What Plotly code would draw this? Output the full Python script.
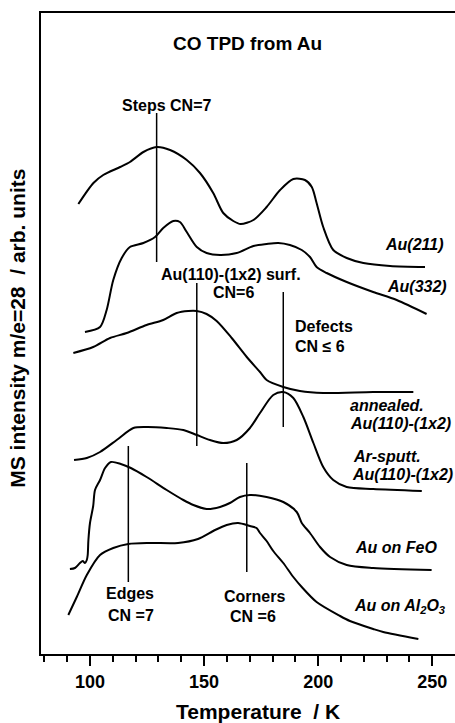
import plotly.graph_objects as go

# CO thermal desorption traces (temperature in K, MS intensity in arb. units, offset stacked)
T_211 = [94.9, 101.5, 105.8, 113.2, 117.5, 123.4, 129.2, 135.1, 142.4, 148.2, 154.0, 158.4,
         162.8, 166.0, 171.6, 177.4, 183.3, 189.1, 194.2, 197.2, 199.3, 202.2, 206.6, 212.5,
         219.8, 231.5, 246.8]
I_211 = [4.50, 4.71, 4.79, 4.87, 4.92, 5.02, 5.07, 5.04, 4.94, 4.81, 4.61, 4.41,
         4.33, 4.30, 4.34, 4.47, 4.64, 4.75, 4.74, 4.67, 4.51, 4.27, 4.04, 3.96,
         3.91, 3.88, 3.87]

T_332 = [97.8, 104.4, 107.3, 110.2, 113.9, 117.5, 123.4, 128.5, 132.1, 136.5, 139.4, 142.4,
         146.8, 151.1, 157.0, 164.3, 171.6, 177.4, 182.5, 187.6, 192.8, 196.4, 199.3, 203.7,
         212.5, 224.1, 234.4, 247.5]
I_332 = [3.22, 3.27, 3.44, 3.74, 3.96, 4.07, 4.11, 4.17, 4.26, 4.33, 4.32, 4.22,
         4.07, 4.01, 3.99, 4.01, 4.08, 4.10, 4.11, 4.09, 4.04, 3.97, 3.87, 3.81,
         3.72, 3.62, 3.54, 3.40]

T_ann = [92.7, 101.4, 108.8, 116.1, 124.8, 132.1, 138.0, 143.1, 146.8, 151.1, 155.5, 162.1,
         168.7, 174.5, 177.4, 184.7, 192.0, 202.2, 224.1, 241.7]
I_ann = [3.01, 3.07, 3.16, 3.21, 3.29, 3.34, 3.41, 3.43, 3.43, 3.40, 3.33, 3.16,
         2.97, 2.82, 2.74, 2.67, 2.63, 2.61, 2.62, 2.62]

T_spt = [93.0, 98.6, 104.4, 111.7, 119.0, 124.8, 133.6, 140.9, 146.8, 152.6, 158.4, 164.3,
         170.1, 174.5, 180.3, 184.7, 189.1, 193.5, 197.9, 202.2, 206.6, 212.5, 224.1, 245.4]
I_spt = [1.94, 1.96, 2.02, 2.14, 2.26, 2.27, 2.26, 2.24, 2.19, 2.14, 2.11, 2.14,
         2.26, 2.41, 2.59, 2.62, 2.56, 2.37, 2.11, 1.87, 1.74, 1.67, 1.65, 1.63]

T_feo = [91.2, 93.4, 95.6, 96.8, 97.8, 98.6, 99.0, 99.3, 100.0, 101.4, 102.2, 104.4, 106.6,
         109.2, 113.5, 117.9, 124.8, 133.6, 140.9, 145.3, 151.1, 157.0, 161.3, 165.7,
         170.1, 177.4, 184.7, 190.6, 192.8, 196.4, 200.8, 205.2, 212.5, 224.1, 249.7]
I_feo = [0.85, 0.86, 0.91, 0.93, 0.91, 0.94, 0.99, 1.14, 1.31, 1.48, 1.64, 1.74, 1.86,
         1.92, 1.90, 1.86, 1.77, 1.64, 1.54, 1.49, 1.45, 1.47, 1.51, 1.57,
         1.59, 1.57, 1.52, 1.42, 1.31, 1.21, 1.07, 0.97, 0.89, 0.86, 0.84]

T_al = [90.5, 94.2, 98.6, 104.4, 110.2, 116.8, 126.3, 138.6, 147.3, 154.8, 159.9, 164.9,
        170.1, 173.0, 174.5, 177.4, 180.3, 184.7, 189.1, 192.8, 199.3, 209.6, 213.9, 224.1,
        228.5, 243.9]
I_al = [0.39, 0.57, 0.79, 0.99, 1.06, 1.10, 1.11, 1.11, 1.15, 1.24, 1.29, 1.31,
        1.28, 1.26, 1.21, 1.13, 1.03, 0.91, 0.77, 0.67, 0.52, 0.38, 0.33, 0.25,
        0.22, 0.15]

# site markers: (temperature, bottom, top)
markers = {
    "steps": (129.2, 3.92, 5.41),
    "surf": (146.8, 2.08, 3.71),
    "defects": (184.7, 2.27, 3.62),
    "edges": (116.8, 0.72, 2.08),
    "corners": (168.7, 0.82, 1.91),
}

FONT = "Liberation Sans, Arial, sans-serif"
fig = go.Figure()

for tx, iy in [(T_211, I_211), (T_332, I_332), (T_ann, I_ann),
               (T_spt, I_spt), (T_feo, I_feo), (T_al, I_al)]:
    fig.add_trace(go.Scatter(x=tx, y=iy, mode="lines",
                             line=dict(color="black", width=2, shape="spline", smoothing=0.8),
                             showlegend=False, hoverinfo="skip"))

for t, y0, y1 in markers.values():
    fig.add_trace(go.Scatter(x=[t, t], y=[y0, y1], mode="lines",
                             line=dict(color="black", width=1.5),
                             showlegend=False, hoverinfo="skip"))

def note(text, x, y, anchor="center", italic=False, size=16):
    fig.add_annotation(x=x, y=y, xref="x", yref="y", text=text, showarrow=False,
                       xanchor=anchor, yanchor="middle",
                       font=dict(family=FONT, size=size, color="black",
                                 weight="bold", style="italic" if italic else "normal"))

note("CO TPD from Au", 169.2, 6.11, size=19)
note("Steps CN=7", 133.7, 5.49)
note("Au(110)-(1x2) surf.", 162.0, 3.80)
note("CN=6", 163.0, 3.62)
note("Defects", 189.1, 3.28, anchor="left")
note("CN ≤ 6", 189.1, 3.08, anchor="left")
note("Au(211)", 228.5, 4.10, anchor="left", italic=True)
note("Au(332)", 229.3, 3.68, anchor="left", italic=True)
note("annealed.", 213.2, 2.49, anchor="left", italic=True)
note("Au(110)-(1x2)", 213.2, 2.31, anchor="left", italic=True)
note("Ar-sputt.", 214.4, 1.98, anchor="left", italic=True)
note("Au(110)-(1x2)", 213.9, 1.80, anchor="left", italic=True)
note("Au on FeO", 215.4, 1.07, anchor="left", italic=True)
note("Au on Al<sub>2</sub>O<sub>3</sub>", 214.7, 0.48, anchor="left", italic=True)
note("Edges", 117.7, 0.61)
note("CN =7", 118.0, 0.39)
note("Corners", 172.1, 0.58)
note("CN =6", 171.4, 0.38)

# axis titles
fig.add_annotation(x=0.523, y=-0.090, xref="paper", yref="paper", showarrow=False,
                   text="Temperature &nbsp;/ K", xanchor="center", yanchor="middle",
                   font=dict(family=FONT, size=21, color="black", weight="bold"))
fig.add_annotation(x=-0.057, y=0.508, xref="paper", yref="paper", showarrow=False,
                   text="MS intensity m/e=28 &nbsp;/ arb. units", textangle=-90,
                   xanchor="center", yanchor="middle",
                   font=dict(family=FONT, size=21, color="black", weight="bold"))

fig.update_xaxes(range=[78.53, 259.95], showline=True, linecolor="black", linewidth=2,
                 mirror=True, showgrid=False, zeroline=False,
                 tick0=0, dtick=50, ticks="outside", ticklen=10, tickwidth=1.5,
                 tickcolor="black",
                 minor=dict(dtick=10, tick0=0, ticks="outside", ticklen=6, tickwidth=1.5,
                            tickcolor="black", showgrid=False),
                 tickfont=dict(family=FONT, size=18, color="black", weight="bold"))
fig.update_yaxes(range=[0, 6.41], showline=True, linecolor="black", linewidth=2,
                 showgrid=False, zeroline=False, showticklabels=False, ticks="")

fig.update_layout(width=455, height=723, margin=dict(l=41, r=0, t=13, b=69),
                  plot_bgcolor="white", paper_bgcolor="white")

fig.write_html("out.html")
